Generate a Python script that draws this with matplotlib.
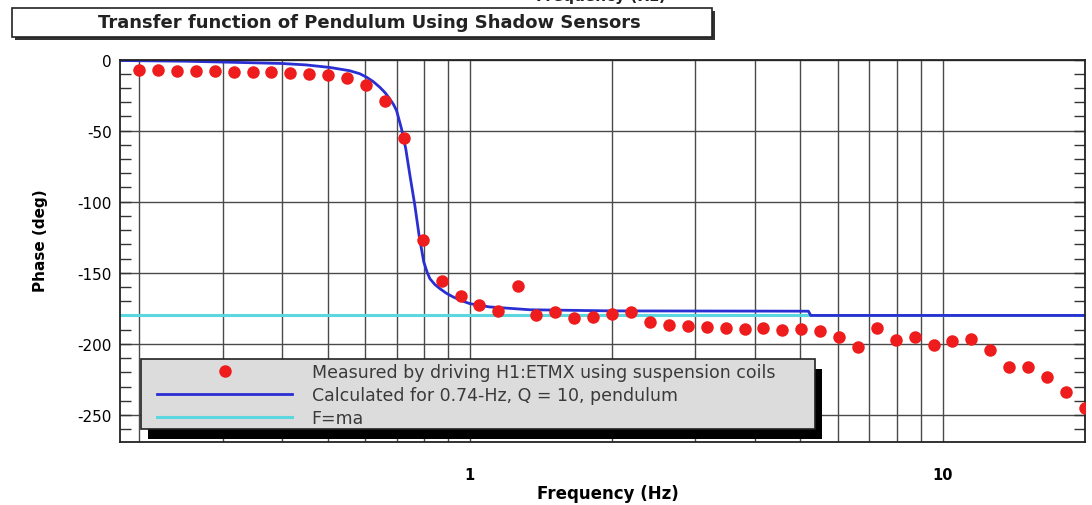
import matplotlib
matplotlib.use("Agg")
import matplotlib.pyplot as plt
import matplotlib.ticker as ticker
import matplotlib.patheffects as pe
from matplotlib.patches import Rectangle

plt.rcParams["font.family"] = ["DejaVu Sans"]
plt.rcParams["axes.unicode_minus"] = False

# ---- measured phase (red dots) ----
meas_freq = [0.200, 0.219, 0.240, 0.263, 0.289, 0.317, 0.347, 0.380, 0.417, 0.457,
             0.502, 0.550, 0.603, 0.661, 0.725, 0.796, 0.872, 0.956, 1.048, 1.149,
             1.262, 1.383, 1.517, 1.663, 1.823, 2.000, 2.193, 2.404, 2.636, 2.890,
             3.170, 3.475, 3.810, 4.177, 4.580, 5.024, 5.508, 6.039, 6.621, 7.260,
             7.962, 8.730, 9.572, 10.49, 11.50, 12.62, 13.83, 15.17, 16.63, 18.23,
             20.00]
meas_phase = [-7.5, -7.5, -7.8, -8.2, -8.2, -8.5, -9.0, -9.0, -9.5, -10.0,
              -11.0, -13.0, -18.0, -29.0, -55.5, -127.0, -156.0, -166.5, -173.0, -177.0,
              -159.0, -179.5, -177.5, -182.0, -181.0, -179.0, -177.5, -184.5, -186.5, -187.5,
              -188.0, -189.0, -189.5, -189.0, -190.0, -189.5, -191.0, -195.0, -202.5, -189.0,
              -197.0, -195.0, -201.0, -198.0, -196.5, -204.5, -216.5, -216.0, -223.5, -234.0,
              -245.0]

# ---- calculated pendulum response (blue line) ----
calc_freq = [0.18, 0.25, 0.30, 0.40, 0.45, 0.506, 0.557, 0.585, 0.605, 0.625,
             0.645, 0.662, 0.677, 0.690, 0.700, 0.717, 0.732, 0.747, 0.765, 0.781,
             0.799, 0.812, 0.823, 0.843, 0.864, 0.892, 0.922, 0.960, 1.00, 1.10,
             1.34, 2.00, 5.20, 5.26, 20.5]
calc_phase = [-0.7, -1.2, -1.8, -2.8, -3.8, -5.6, -7.9, -10.0, -12.5, -15.6,
              -19.5, -23.4, -27.7, -31.8, -36.0, -48.8, -62.9, -81.6, -102.6, -123.7,
              -142.4, -149.5, -154.1, -158.2, -161.1, -164.4, -167.0, -169.6, -171.7, -174.0,
              -176.0, -176.8, -177.0, -180.0, -180.0]

# ---- free mass (F=ma) ----
fma_freq = [0.18, 20.5]
fma_phase = [-180, -180]

labels = ["Measured by driving H1:ETMX using suspension coils",
          "Calculated for 0.74-Hz, Q = 10, pendulum",
          "F=ma"]

W, H = 1092, 506
fig = plt.figure(figsize=(W / 100, H / 100), dpi=100)
fig.patch.set_facecolor("white")
ax = fig.add_axes([120 / W, 1 - 443 / H, 965 / W, 382.5 / H])

ax.plot(fma_freq, fma_phase, color="#5cd6df", lw=2.2, zorder=2, label=labels[2])
ax.plot(calc_freq, calc_phase, color="#2a2fd2", lw=2.0, zorder=2.5, label=labels[1])
ax.plot(meas_freq, meas_phase, "o", ls="none", color="#ee1c1c", ms=9, mec="none",
        zorder=3, label=labels[0])

ax.set_xscale("log")
ax.set_xlim(0.182, 20)
ax.set_ylim(-269, 0)

ax.xaxis.set_major_locator(ticker.LogLocator(base=10))
ax.xaxis.set_major_formatter(ticker.FormatStrFormatter("%g"))
ax.xaxis.set_minor_locator(ticker.LogLocator(base=10, subs=range(2, 10)))
ax.xaxis.set_minor_formatter(ticker.NullFormatter())
ax.yaxis.set_major_locator(ticker.MultipleLocator(50))
ax.yaxis.set_minor_locator(ticker.MultipleLocator(10))

ax.grid(True, which="both", axis="x", color="#4a4a4a", lw=1.0)
ax.grid(True, which="major", axis="y", color="#4a4a4a", lw=1.0)
ax.set_axisbelow(True)

ax.tick_params(axis="y", which="both", direction="in", left=True, right=True,
               length=8, width=1, color="#333", labelsize=11, pad=6)
ax.tick_params(axis="x", which="both", length=0, labelsize=10.5, pad=18)
for lab in ax.get_xticklabels():
    lab.set_fontweight("bold")
for s in ax.spines.values():
    s.set_linewidth(1.3)
    s.set_color("#222")

ax.set_xlabel("Frequency (Hz)", fontsize=12, fontweight="bold")
ax.xaxis.set_label_coords(0.506, -0.11)
ax.set_ylabel("Phase (deg)", fontsize=11, fontweight="bold")
ax.yaxis.set_label_coords(-0.075, 0.53)

# legend box with drop shadow
box = Rectangle((21 / 965, 13 / 382.5), 674 / 965, 70 / 382.5, transform=ax.transAxes,
                facecolor="#dcdcdc", edgecolor="#222", lw=1.2, zorder=4.5, clip_on=False)
box.set_path_effects([pe.SimplePatchShadow(offset=(5, -7), shadow_rgbFace="black", alpha=1.0),
                      pe.Normal()])
ax.add_patch(box)

handles, labs = ax.get_legend_handles_labels()
order = [2, 1, 0]
leg = ax.legend([handles[i] for i in order], [labs[i] for i in order],
                loc="upper left", bbox_to_anchor=(37 / 965, (443 - 364) / 382.5),
                frameon=False, borderpad=0, borderaxespad=0, fontsize=12.5,
                handlelength=7.8, handletextpad=1.1, labelspacing=0.3,
                labelcolor="#3a3a3a")
leg.set_zorder(6)

# title box with drop shadow
tbox = Rectangle((12 / W, 1 - 38 / H), 700 / W, 29 / H, transform=fig.transFigure,
                 facecolor="white", edgecolor="#222", lw=1.2)
tbox.set_path_effects([pe.SimplePatchShadow(offset=(2.5, -2.5), shadow_rgbFace="#333", alpha=1.0),
                       pe.Normal()])
fig.patches.append(tbox)
fig.text(369 / W, 1 - 23 / H, "Transfer function of Pendulum Using Shadow Sensors",
         ha="center", va="center", fontsize=13, fontweight="bold", color="#222")

# axis label of the panel above, cut by the top edge
fig.text(601 / W, 1 - 1 / H, "Frequency (Hz)", ha="center", va="baseline",
         fontsize=11, fontweight="bold", color="#222")

fig.savefig("out.png", dpi=100)
